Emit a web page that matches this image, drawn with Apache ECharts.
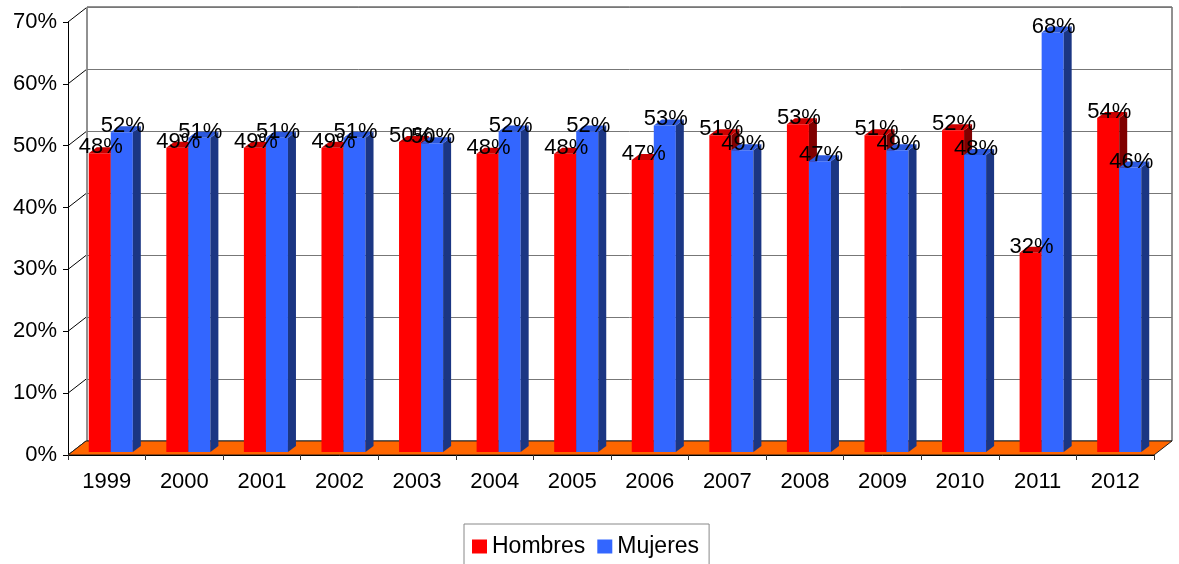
<!DOCTYPE html>
<html>
<head>
<meta charset="utf-8">
<script src="https://cdn.jsdelivr.net/npm/echarts@6.0.0/dist/echarts.min.js"></script>
<style>
  html, body { margin: 0; padding: 0; background: #fff; }
  #chart { width: 1179px; height: 564px; }
</style>
</head>
<body>
<div id="chart"></div>
<script>
// valores (en %)
const years = ['1999', '2000', '2001', '2002', '2003', '2004', '2005', '2006', '2007', '2008', '2009', '2010', '2011', '2012'];
const hombres = [48.3, 49.2, 49.2, 49.2, 50.1, 48.2, 48.2, 47.2, 51.2, 53.0, 51.2, 52.0, 32.2, 54.0];
const mujeres = [51.7, 50.8, 50.8, 50.8, 49.9, 51.8, 51.8, 52.8, 48.8, 47.0, 48.8, 48.0, 67.8, 46.0];
const yTicks = [0, 10, 20, 30, 40, 50, 60, 70];

// perspectiva del 3D de Excel
const DX = 18, DY = -14;     // fondo de la pared
const FX = 4, FY = -3;       // plano frontal de las barras
const BDX = 8, BDY = -6;     // profundidad de cada barra
const FAMILY = '"Liberation Sans", Arial, sans-serif';
const FONT = '22px ' + FAMILY;

const colors = {
    Hombres: { front: '#FF0000', top: '#CC0000', side: '#800000' },
    Mujeres: { front: '#3366FF', top: '#2C58DC', side: '#1B3683' }
};

function barRenderer(name, left) {
    const c = colors[name];
    return function (params, api) {
        const i = api.value(0), v = api.value(1);
        const base = api.coord([i, 0]);
        const top = api.coord([i, v]);
        const bw = api.size([1, 0])[0] * 0.284;
        const cx = base[0] + FX;
        const x0 = left ? cx - bw : cx;
        const x1 = x0 + bw;
        const yb = base[1] + FY, yt = top[1] + FY;
        return {
            type: 'group',
            children: [
                { type: 'rect', shape: { x: x0, y: yt, width: bw, height: yb - yt }, style: { fill: c.front } },
                { type: 'polygon', shape: { points: [[x1, yt], [x1 + BDX, yt + BDY], [x1 + BDX, yb + BDY], [x1, yb]] }, style: { fill: c.side } },
                { type: 'polygon', shape: { points: [[x0, yt], [x1, yt], [x1 + BDX, yt + BDY], [x0 + BDX, yt + BDY]] }, style: { fill: c.top } },
                {
                    type: 'text', z2: 100,
                    style: {
                        text: Math.round(v) + '%', x: (x0 + x1) / 2 + 1, y: yt - 6,
                        align: 'center', verticalAlign: 'middle', fill: '#000', font: FONT
                    }
                }
            ]
        };
    };
}

// paredes laterales y suelo naranja
function wallRenderer(params, api) {
    const cs = params.coordSys;
    const v = api.value(1);
    const p = api.coord([0, v]);
    const x = cs.x, y = p[1];
    const children = [
        { type: 'line', shape: { x1: x, y1: y, x2: x + DX, y2: y + DY }, style: { stroke: '#000', lineWidth: 1 } }
    ];
    if (v === 0) {
        const xr = cs.x + cs.width;
        children.push({
            type: 'polygon',
            shape: { points: [[x, y], [xr, y], [xr + DX, y + DY], [x + DX, y + DY]] },
            style: { fill: '#FF6600', stroke: '#222', lineWidth: 1 }
        });
    }
    return { type: 'group', children };
}

const chart = echarts.init(document.getElementById('chart'));
chart.setOption({
    animation: false,
    backgroundColor: '#fff',
    grid: [
        { left: 68, top: 22, right: 25, bottom: 109 },
        { left: 87, top: 7, right: 7, bottom: 123, show: true, borderColor: '#222', borderWidth: 1, backgroundColor: '#fff' }
    ],
    legend: {
        data: ['Hombres', 'Mujeres'],
        left: 464, top: 524,
        icon: 'rect', itemWidth: 15, itemHeight: 14, itemGap: 12,
        padding: [11, 10, 14, 8],
        borderColor: '#888', borderWidth: 1,
        textStyle: { fontSize: 23, color: '#000', fontFamily: FAMILY }
    },
    xAxis: [
        {
            gridIndex: 0, type: 'category', data: years, z: 3,
            axisLine: { lineStyle: { color: '#000' } },
            axisTick: { show: true, length: 5, lineStyle: { color: '#333' } },
            axisLabel: { interval: 0, margin: 16, fontSize: 22, color: '#000', fontFamily: FAMILY }
        },
        { gridIndex: 1, type: 'category', data: years, show: false }
    ],
    yAxis: [
        {
            gridIndex: 0, type: 'value', min: 0, max: 70, interval: 10,
            axisLine: { show: true, lineStyle: { color: '#000' } },
            axisTick: { show: true, length: 5, lineStyle: { color: '#000' } },
            splitLine: { show: false },
            axisLabel: { formatter: '{value}%', margin: 11, fontSize: 22, color: '#000', fontFamily: FAMILY }
        },
        {
            gridIndex: 1, type: 'value', min: 0, max: 70, interval: 10,
            axisLine: { show: false }, axisTick: { show: false }, axisLabel: { show: false },
            splitLine: { show: true, lineStyle: { color: '#777', width: 1 } }
        }
    ],
    series: [
        {
            type: 'custom', name: 'walls', z: 1, xAxisIndex: 0, yAxisIndex: 0, silent: true,
            renderItem: wallRenderer,
            data: yTicks.map(v => [0, v])
        },
        {
            type: 'custom', name: 'Hombres', z: 2, xAxisIndex: 0, yAxisIndex: 0,
            itemStyle: { color: colors.Hombres.front },
            renderItem: barRenderer('Hombres', true),
            data: hombres.map((v, i) => [i, v])
        },
        {
            type: 'custom', name: 'Mujeres', z: 2, xAxisIndex: 0, yAxisIndex: 0,
            itemStyle: { color: colors.Mujeres.front },
            renderItem: barRenderer('Mujeres', false),
            data: mujeres.map((v, i) => [i, v])
        }
    ]
});
</script>
</body>
</html>
